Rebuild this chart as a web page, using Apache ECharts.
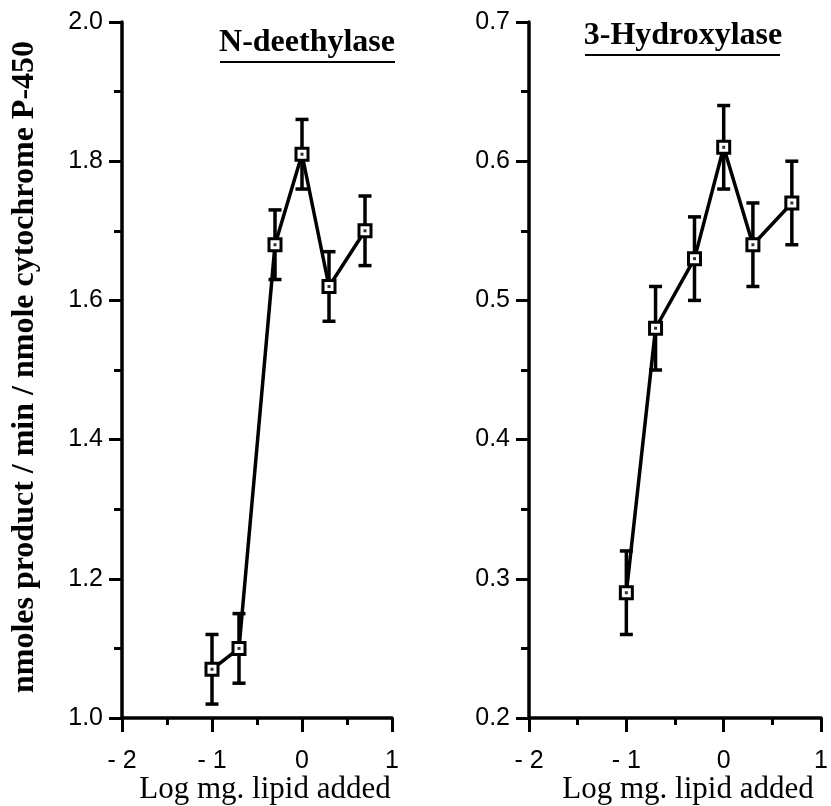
<!DOCTYPE html>
<html>
	<head>
		<meta charset="utf-8">
		<title>Lipid effect on N-deethylase / 3-Hydroxylase</title>
		<script src="https://cdn.jsdelivr.net/npm/echarts@6/dist/echarts.min.js"></script>
		<style>
			html, body { margin: 0; padding: 0; background: #fff; }
			#main { width: 831px; height: 806px; }
		</style>
	</head>
	<body>
		<div id="main"></div>
		<script type="text/javascript">
		// data
		var logLipid = [-1, -0.7, -0.3, 0, 0.3, 0.7];
		var deethylase = [1.07, 1.10, 1.68, 1.81, 1.62, 1.70];
		var deethylaseErr = [0.05, 0.05, 0.05, 0.05, 0.05, 0.05];
		var hydroxylase = [0.29, 0.48, 0.53, 0.61, 0.54, 0.57];
		var hydroxylaseErr = [0.03, 0.03, 0.03, 0.03, 0.03, 0.03];
		var xTicks = [-2, -1, 0, 1];

		var sans = "'Liberation Sans', Arial, sans-serif";
		var serif = "'Liberation Serif', 'Times New Roman', serif";

		function pairs(ys) {
			return logLipid.map(function (x, i) { return [x, ys[i]]; });
		}
		function errData(ys, es) {
			return logLipid.map(function (x, i) { return [x, ys[i] - es[i], ys[i] + es[i]]; });
		}
		function renderErr(params, api) {
			var lo = api.coord([api.value(0), api.value(1)]);
			var hi = api.coord([api.value(0), api.value(2)]);
			var w = 6.5;
			var st = { stroke: '#000', lineWidth: 3.5 };
			return {
				type: 'group',
				children: [
					{ type: 'line', shape: { x1: hi[0], y1: hi[1], x2: lo[0], y2: lo[1] }, style: st },
					{ type: 'line', shape: { x1: hi[0] - w, y1: hi[1], x2: hi[0] + w, y2: hi[1] }, style: st },
					{ type: 'line', shape: { x1: lo[0] - w, y1: lo[1], x2: lo[0] + w, y2: lo[1] }, style: st }
				]
			};
		}
		function xAxisOpt(idx) {
			return {
				type: 'value', gridIndex: idx, min: xTicks[0], max: xTicks[xTicks.length - 1], interval: 1,
				axisLine: { onZero: false, lineStyle: { color: '#000', width: 3.5 } },
				axisTick: { length: 14, lineStyle: { color: '#000', width: 3 } },
				minorTick: { show: true, splitNumber: 2, length: 7, lineStyle: { color: '#000', width: 3 } },
				splitLine: { show: false },
				axisLabel: {
					color: '#000', fontFamily: sans, fontSize: 25, margin: 31,
					formatter: function (v) { return v < 0 ? '- ' + Math.abs(v) : String(v); }
				}
			};
		}
		function yAxisOpt(idx, min, max, step) {
			return {
				type: 'value', gridIndex: idx, min: min, max: max, interval: step,
				axisLine: { show: true, onZero: false, lineStyle: { color: '#000', width: 3.5 } },
				axisTick: { show: true, length: 13, lineStyle: { color: '#000', width: 3 } },
				minorTick: { show: true, splitNumber: 2, length: 8, lineStyle: { color: '#000', width: 3 } },
				splitLine: { show: false },
				axisLabel: {
					color: '#000', fontFamily: sans, fontSize: 25, margin: 19,
					formatter: function (v) { return v.toFixed(1); }
				}
			};
		}
		function lineSeries(idx, ys) {
			return {
				type: 'line', xAxisIndex: idx, yAxisIndex: idx, data: pairs(ys), z: 3,
				symbol: 'rect', symbolSize: 12,
				lineStyle: { color: '#000', width: 3.5 },
				itemStyle: { color: '#fff', borderColor: '#000', borderWidth: 3 }
			};
		}
		function dotSeries(idx, ys) {
			return {
				type: 'scatter', xAxisIndex: idx, yAxisIndex: idx, data: pairs(ys), z: 5,
				symbol: 'rect', symbolSize: 3, itemStyle: { color: '#000' }
			};
		}
		function errSeries(idx, ys, es) {
			return {
				type: 'custom', xAxisIndex: idx, yAxisIndex: idx, z: 2,
				data: errData(ys, es), renderItem: renderErr
			};
		}

		var myChart = echarts.init(document.getElementById('main'));
		var option = {
			animation: false,
			backgroundColor: '#fff',
			grid: [
				{ left: 122, right: 439, top: 22, bottom: 88 },
				{ left: 529, right: 2, top: 22, bottom: 88 }
			],
			xAxis: [xAxisOpt(0), xAxisOpt(1)],
			yAxis: [yAxisOpt(0, 1.0, 2.0, 0.2), yAxisOpt(1, 0.2, 0.7, 0.1)],
			series: [
				errSeries(0, deethylase, deethylaseErr),
				lineSeries(0, deethylase),
				dotSeries(0, deethylase),
				errSeries(1, hydroxylase, hydroxylaseErr),
				lineSeries(1, hydroxylase),
				dotSeries(1, hydroxylase)
			],
			graphic: [
				{ type: 'text', x: 307, y: 59, style: { text: 'N-deethylase', font: 'bold 32px ' + serif, fill: '#000', align: 'center', verticalAlign: 'bottom' } },
				{ type: 'line', shape: { x1: 220, y1: 62, x2: 395, y2: 62 }, style: { stroke: '#000', lineWidth: 2 } },
				{ type: 'text', x: 683, y: 52, style: { text: '3-Hydroxylase', font: 'bold 32px ' + serif, fill: '#000', align: 'center', verticalAlign: 'bottom' } },
				{ type: 'line', shape: { x1: 585, y1: 55, x2: 780, y2: 55 }, style: { stroke: '#000', lineWidth: 2 } },
				{ type: 'text', x: 265, y: 790, style: { text: 'Log mg. lipid added', font: '31px ' + serif, fill: '#000', align: 'center', verticalAlign: 'middle' } },
				{ type: 'text', x: 688, y: 790, style: { text: 'Log mg. lipid added', font: '31px ' + serif, fill: '#000', align: 'center', verticalAlign: 'middle' } },
				{ type: 'text', x: 25, y: 367, rotation: Math.PI / 2, style: { text: 'nmoles product / min / nmole cytochrome P-450', font: 'bold 32px ' + serif, fill: '#000', align: 'center', verticalAlign: 'middle' } }
			]
		};
		myChart.setOption(option);
		</script>
	</body>
</html>
